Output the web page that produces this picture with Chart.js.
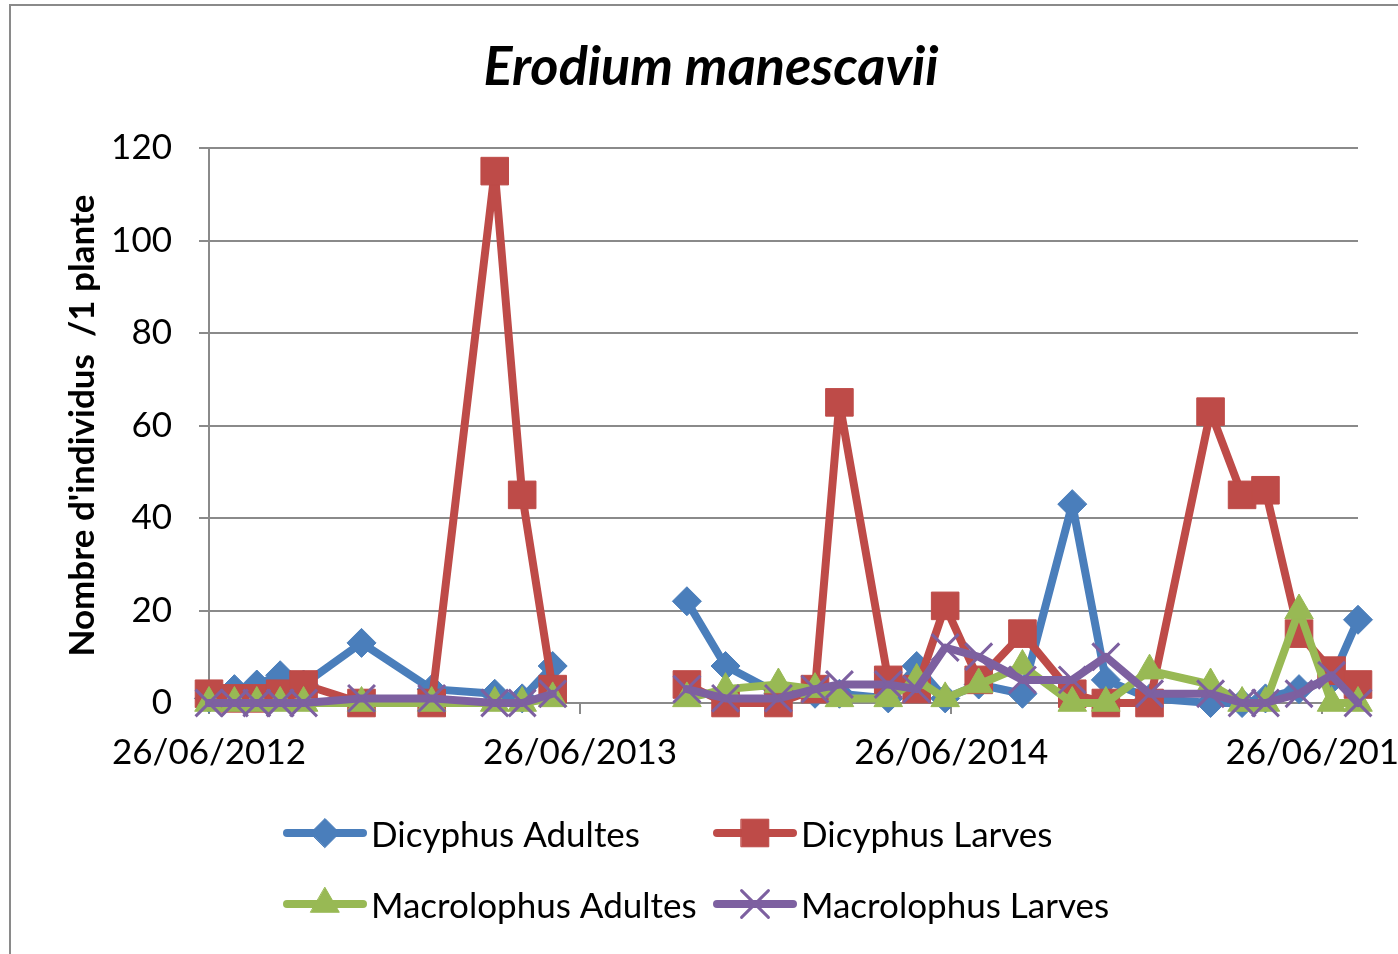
<!DOCTYPE html>
<html>
<head>
<meta charset="utf-8">
<script src="https://cdn.jsdelivr.net/npm/chart.js@4.4.1/dist/chart.umd.min.js"></script>
<style>
html,body{margin:0;padding:0;background:#fff;overflow:hidden;width:1398px;height:954px;}
#wrap{position:absolute;left:0;top:0;width:1460px;height:954px;}
</style>
</head>
<body>
<div id="wrap"><canvas id="c" width="1460" height="954"></canvas></div>
<script>
// ---- data ----
const dates = ['26/06/2012','21/07/2012','12/08/2012','04/09/2012','27/09/2012','23/11/2012','31/01/2013','03/04/2013','30/04/2013','30/05/2013','31/07/2013','09/10/2013','16/11/2013','07/01/2014','12/02/2014','08/03/2014','25/04/2014','23/05/2014','20/06/2014','23/07/2014','04/09/2014','23/10/2014','25/11/2014','07/01/2015','08/03/2015','08/04/2015','01/05/2015','03/06/2015','05/07/2015','31/07/2015'];
const dicyphusAdultes    = [1,3,4,6,4,13,3,2,1,8,null,22,8,2,2,2,1,8,1,4,2,43,5,1,0,0,1,3,5,18];
const dicyphusLarves     = [2,1,1,2,4,0,0,115,45,3,null,4,0,0,3,65,5,3,21,5,15,2,0,0,63,45,46,15,7,4];
const macrolophusAdultes = [0,0,0,0,0,0,0,0,0,1,null,1,3,4,3,1,1,5,1,4,8,0,0,7,4,0,0,20,0,0];
const macrolophusLarves  = [0,0,0,0,0,1,1,0,0,2,null,3,1,1,3,4,4,3,12,10,5,5,10,2,2,0,0,2,6,0];
const seriesNames = ['Dicyphus Adultes','Dicyphus Larves','Macrolophus Adultes','Macrolophus Larves'];
const xTickLabels = ['26/06/2012','26/06/2013','26/06/2014','26/06/2015'];
const yMin = 0, yMax = 120, yStep = 20;
const chartTitle = 'Erodium manescavii';
const yTitle = "Nombre d'individus  /1 plante";

// ---- helpers ----
function parseDate(s){ const p = s.split('/').map(Number); return Date.UTC(p[2], p[1]-1, p[0]); }
const origin = parseDate(xTickLabels[0]);
function dayIndex(s){ return Math.round((parseDate(s) - origin) / 86400000); }
const xDays = dates.map(dayIndex);
const xTickDays = xTickLabels.map(dayIndex);
function pts(vals){ return xDays.map((x, i) => ({x: x, y: vals[i]})); }

const gridColor = '#8a8a8a';
const FONT = 'Lato';

const styles = [
  {color:'#4A7EBB', pointStyle:'rectRot',  radius:14.5, pbw:1,   order:4},
  {color:'#BE4B48', pointStyle:'rect',     radius:19.5, pbw:1,   order:3},
  {color:'#98B954', pointStyle:'triangle', radius:16.5, pbw:1,   order:2},
  {color:'#7D60A0', pointStyle:'crossRot', radius:19,   pbw:3,   order:1}
];
const seriesValues = [dicyphusAdultes, dicyphusLarves, macrolophusAdultes, macrolophusLarves];

const datasets = seriesValues.map((vals, i) => ({
  label: seriesNames[i],
  data: pts(vals),
  borderColor: styles[i].color,
  backgroundColor: styles[i].color,
  borderWidth: 8,
  borderJoinStyle: 'round',
  borderCapStyle: 'round',
  pointStyle: styles[i].pointStyle,
  pointRadius: styles[i].radius,
  pointBackgroundColor: styles[i].color,
  pointBorderColor: styles[i].color,
  pointBorderWidth: styles[i].pbw,
  tension: 0,
  spanGaps: false,
  clip: false,
  order: styles[i].order
}));

// frame of the whole chart
const framePlugin = {
  id: 'frame',
  beforeDraw(chart){
    const ctx = chart.ctx;
    ctx.save();
    ctx.fillStyle = '#fff';
    ctx.fillRect(0, 0, chart.width, chart.height);
    ctx.strokeStyle = gridColor;
    ctx.lineWidth = 2;
    ctx.beginPath();
    ctx.moveTo(10, chart.height + 5);
    ctx.lineTo(10, 5);
    ctx.lineTo(chart.width + 5, 5);
    ctx.stroke();
    ctx.restore();
  }
};

// 2x2 legend with line + marker samples
const gridLegend = {
  id: 'gridLegend',
  afterDraw(chart, args, opts){
    const ctx = chart.ctx;
    chart.data.datasets.forEach((ds, i) => {
      const col = i % 2, row = Math.floor(i / 2);
      const x0 = opts.colX[col], y = opts.rowY[row];
      ctx.save();
      ctx.strokeStyle = ds.borderColor;
      ctx.lineWidth = ds.borderWidth;
      ctx.lineCap = 'round';
      ctx.beginPath();
      ctx.moveTo(x0, y);
      ctx.lineTo(x0 + opts.lineLen, y);
      ctx.stroke();
      ctx.fillStyle = ds.pointBackgroundColor;
      ctx.strokeStyle = ds.pointBorderColor;
      ctx.lineWidth = ds.pointBorderWidth;
      Chart.helpers.drawPoint(ctx, {pointStyle: ds.pointStyle, radius: ds.pointRadius, borderWidth: ds.pointBorderWidth, rotation: 0}, x0 + opts.lineLen / 2, y);
      ctx.fillStyle = '#000';
      ctx.font = opts.fontSize + 'px ' + FONT;
      ctx.textBaseline = 'middle';
      ctx.textAlign = 'left';
      ctx.fillText(ds.label, x0 + opts.textGap, y + opts.textDy);
      ctx.restore();
    });
  }
};

new Chart(document.getElementById('c'), {
  type: 'line',
  data: { datasets: datasets },
  plugins: [framePlugin, gridLegend],
  options: {
    responsive: false,
    animation: false,
    devicePixelRatio: 1,
    layout: { padding: { left: 64, right: 102, top: 0, bottom: 162 } },
    plugins: {
      legend: { display: false },
      tooltip: { enabled: false },
      title: {
        display: true,
        text: chartTitle,
        color: '#000',
        font: { family: FONT, size: 54, weight: 'bold', style: 'italic', lineHeight: 1.2 },
        padding: { top: 35.6, bottom: 47.6 }
      },
      gridLegend: { colX: [287, 717], rowY: [833, 904], lineLen: 76, textGap: 84, textDy: 3, fontSize: 35 }
    },
    scales: {
      x: {
        type: 'linear',
        min: xTickDays[0],
        max: xDays[xDays.length - 1],
        afterBuildTicks: (s) => { s.ticks = xTickDays.map(v => ({ value: v })); },
        grid: { display: true, drawOnChartArea: false, drawTicks: true, tickLength: 11, color: gridColor, lineWidth: 2 },
        border: { display: true, color: gridColor, width: 2 },
        ticks: {
          autoSkip: false, maxRotation: 0, minRotation: 0, padding: 18, color: '#000',
          font: { family: FONT, size: 35 },
          callback: (v, i) => xTickLabels[i]
        }
      },
      y: {
        min: yMin, max: yMax,
        ticks: { stepSize: yStep, padding: 27, color: '#000', font: { family: FONT, size: 35 } },
        grid: { color: gridColor, lineWidth: 2, drawTicks: true, tickLength: 10 },
        border: { display: true, color: gridColor, width: 2 },
        title: {
          display: true, text: yTitle, color: '#000',
          font: { family: FONT, size: 35, weight: 'bold', lineHeight: 1.0 },
          padding: { top: 1.5, bottom: 0 }
        },
        afterFit: (s) => { s.width = 145; }
      }
    }
  }
});
</script>
</body>
</html>
